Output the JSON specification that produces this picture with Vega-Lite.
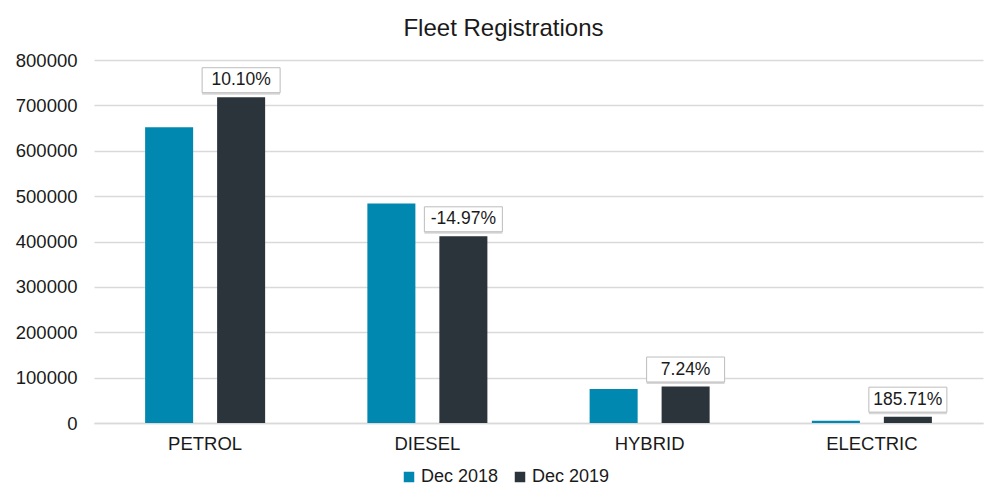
{
  "$schema": "https://vega.github.io/schema/vega-lite/v6.json",
  "width": 889,
  "height": 363,
  "autosize": {"type": "none"},
  "padding": {"left": 94, "top": 60, "right": 2, "bottom": 76},
  "background": "white",
  "title": {
    "text": "Fleet Registrations",
    "font": "Liberation Sans",
    "fontSize": 24,
    "fontWeight": "normal",
    "color": "#1a1a1a",
    "anchor": "middle",
    "dx": -35,
    "offset": 10
  },
  "config": {
    "view": {"stroke": null},
    "font": "Liberation Sans"
  },
  "data": {
    "values": [
      {"fuel": "PETROL", "period": "Dec 2018", "value": 652000, "label": ""},
      {"fuel": "PETROL", "period": "Dec 2019", "value": 718000, "label": "10.10%"},
      {"fuel": "DIESEL", "period": "Dec 2018", "value": 484000, "label": ""},
      {"fuel": "DIESEL", "period": "Dec 2019", "value": 411500, "label": "-14.97%"},
      {"fuel": "HYBRID", "period": "Dec 2018", "value": 75000, "label": ""},
      {"fuel": "HYBRID", "period": "Dec 2019", "value": 80430, "label": "7.24%"},
      {"fuel": "ELECTRIC", "period": "Dec 2018", "value": 4900, "label": ""},
      {"fuel": "ELECTRIC", "period": "Dec 2019", "value": 14000, "label": "185.71%"}
    ]
  },
  "encoding": {
    "x": {
      "field": "fuel",
      "type": "nominal",
      "sort": ["PETROL", "DIESEL", "HYBRID", "ELECTRIC"],
      "scale": {"paddingInner": 0.46, "paddingOuter": 0.23},
      "axis": {
        "title": null,
        "labelAngle": 0,
        "labelFontSize": 18.5,
        "labelColor": "#1a1a1a",
        "labelPadding": 11,
        "ticks": false,
        "domainColor": "#d9d9d9",
        "domainWidth": 1.5
      }
    },
    "xOffset": {
      "field": "period",
      "type": "nominal",
      "scale": {"paddingInner": 0.333, "paddingOuter": 0}
    },
    "y": {
      "field": "value",
      "type": "quantitative",
      "scale": {"domain": [0, 800000]},
      "axis": {
        "title": null,
        "values": [0, 100000, 200000, 300000, 400000, 500000, 600000, 700000, 800000],
        "format": "d",
        "labelFontSize": 18.5,
        "labelColor": "#1a1a1a",
        "labelPadding": 17,
        "ticks": false,
        "domain": false,
        "gridColor": "#d9d9d9",
        "gridWidth": 1.5
      }
    }
  },
  "layer": [
    {
      "mark": {"type": "bar"},
      "encoding": {
        "color": {
          "field": "period",
          "type": "nominal",
          "scale": {"domain": ["Dec 2018", "Dec 2019"], "range": ["#0088b0", "#2b343b"]},
          "legend": {
            "title": null,
            "orient": "none",
            "direction": "horizontal",
            "legendX": 306,
            "legendY": 408,
            "symbolType": "square",
            "symbolSize": 110,
            "symbolStrokeWidth": 0,
            "labelFontSize": 18,
            "labelColor": "#1a1a1a",
            "labelOffset": 3,
            "columnPadding": 12
          }
        }
      }
    },
    {
      "transform": [{"filter": "datum.period == 'Dec 2019'"}],
      "mark": {
        "type": "point",
        "shape": "M-1,-0.32L1,-0.32L1,0.32L-1,0.32Z",
        "size": 6084,
        "filled": true,
        "fill": "#c8c8c8",
        "opacity": 0.7,
        "yOffset": -15,
        "xOffset": 2
      }
    },
    {
      "transform": [{"filter": "datum.period == 'Dec 2019'"}],
      "mark": {
        "type": "point",
        "shape": "M-1,-0.32L1,-0.32L1,0.32L-1,0.32Z",
        "size": 6084,
        "filled": true,
        "fill": "white",
        "stroke": "#bdbdbd",
        "strokeWidth": 1,
        "opacity": 1,
        "yOffset": -17
      }
    },
    {
      "transform": [{"filter": "datum.period == 'Dec 2019'"}],
      "mark": {
        "type": "text",
        "fontSize": 17.5,
        "color": "#1a1a1a",
        "baseline": "middle",
        "dy": -17
      },
      "encoding": {"text": {"field": "label"}}
    }
  ]
}
